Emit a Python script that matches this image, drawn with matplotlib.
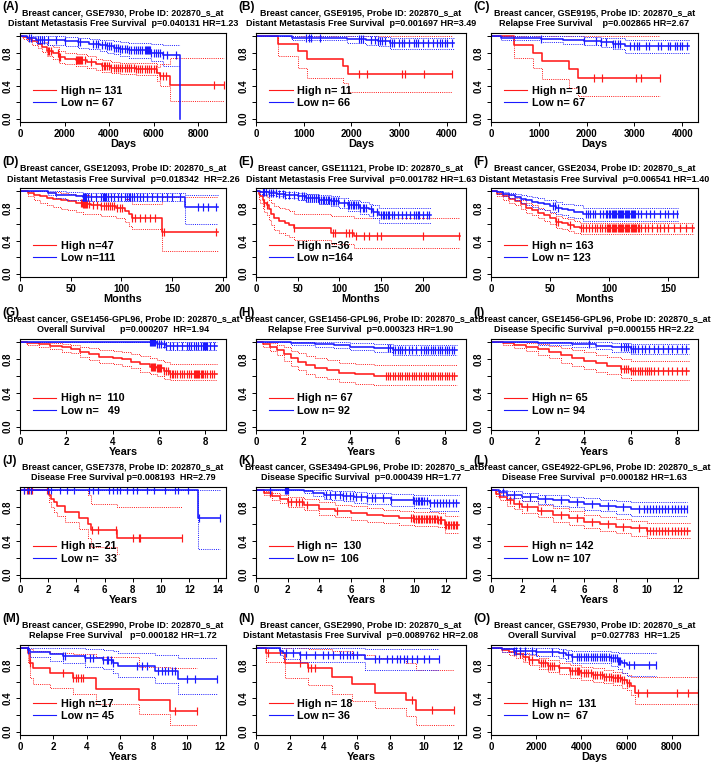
import numpy as np
import matplotlib
matplotlib.use("Agg")
import matplotlib.pyplot as plt
from matplotlib.lines import Line2D

plt.rcParams['font.family'] = ['Liberation Sans', 'DejaVu Sans']
plt.rcParams['font.weight'] = 'bold'

# ---------------- text data ----------------
letters = list("ABCDEFGHIJKLMNO")
title1 = [
    "Breast cancer, GSE7930, Probe ID: 202870_s_at",
    "Breast cancer, GSE9195, Probe ID: 202870_s_at",
    "Breast cancer, GSE9195, Probe ID: 202870_s_at",
    "Breast cancer, GSE12093, Probe ID: 202870_s_at",
    "Breast cancer, GSE11121, Probe ID: 202870_s_at",
    "Breast cancer, GSE2034, Probe ID: 202870_s_at",
    "Breast cancer, GSE1456-GPL96, Probe ID: 202870_s_at",
    "Breast cancer, GSE1456-GPL96, Probe ID: 202870_s_at",
    "Breast cancer, GSE1456-GPL96, Probe ID: 202870_s_at",
    "Breast cancer, GSE7378, Probe ID: 202870_s_at",
    "Breast cancer, GSE3494-GPL96, Probe ID: 202870_s_at",
    "Breast cancer, GSE4922-GPL96, Probe ID: 202870_s_at",
    "Breast cancer, GSE2990, Probe ID: 202870_s_at",
    "Breast cancer, GSE2990, Probe ID: 202870_s_at",
    "Breast cancer, GSE7930, Probe ID: 202870_s_at",
]
title2 = [
    "Distant Metastasis Free Survival  p=0.040131 HR=1.23",
    "Distant Metastasis Free Survival  p=0.001697 HR=3.49",
    "Relapse Free Survival    p=0.002865 HR=2.67",
    "Distant Metastasis Free Survival  p=0.018342  HR=2.26",
    "Distant Metastasis Free Survival  p=0.001782 HR=1.63",
    "Distant Metastasis Free Survival  p=0.006541 HR=1.40",
    "Overall Survival      p=0.000207  HR=1.94",
    "Relapse Free Survival  p=0.000323 HR=1.90",
    "Disease Specific Survival  p=0.000155 HR=2.22",
    "Disease Free Survival p=0.008193  HR=2.79",
    "Disease Specific Survival  p=0.000439 HR=1.77",
    "Disease Free Survival  p=0.000182 HR=1.63",
    "Relapse Free Survival   p=0.000182 HR=1.72",
    "Distant Metastasis Free Survival  p=0.0089762 HR=2.08",
    "Overall Survival      p=0.027783  HR=1.25",
]
legend_high = ["High n= 131", "High n= 11", "High n= 10", "High n=47", "High n=36",
               "High n= 163", "High n=  110", "High n= 67", "High n= 65", "High n= 21",
               "High n=  130", "High n= 142", "High n=17", "High n= 18", "High n=  131"]
legend_low = ["Low n= 67", "Low n= 66", "Low n= 67", "Low n=111", "Low n=164",
              "Low n= 123", "Low n=   49", "Low n= 92", "Low n= 94", "Low n=  33",
              "Low n=  106", "Low n= 107", "Low n= 45", "Low n= 36", "Low n=  67"]
x_units = ["Days", "Days", "Days", "Months", "Months", "Months", "Years", "Years", "Years",
           "Years", "Years", "Years", "Years", "Years", "Days"]
x_ticks = [[0, 2000, 4000, 6000, 8000], [0, 1000, 2000, 3000, 4000], [0, 1000, 2000, 3000, 4000],
           [0, 50, 100, 150, 200], [0, 50, 100, 150, 200], [0, 50, 100, 150],
           [0, 2, 4, 6, 8], [0, 2, 4, 6, 8], [0, 2, 4, 6, 8],
           [0, 2, 4, 6, 8, 10, 12, 14], [0, 2, 4, 6, 8, 10, 12], [0, 2, 4, 6, 8, 10, 12],
           [0, 2, 4, 6, 8, 10, 12], [0, 2, 4, 6, 8, 10, 12], [0, 2000, 4000, 6000, 8000]]
x_max = [9250, 4400, 4330, 203, 252, 175, 8.9, 8.9, 8.9, 14.6, 13.25, 13.3, 12.35, 12.5, 9150]

# ---------------- survival data ----------------
# A
A_hi_t = [0, 150, 350, 550, 800, 1000, 1200, 1500, 1750, 2000, 2500, 3000, 3400, 3700, 4100, 4500, 5200, 6150, 6300, 6750, 9150]
A_hi_s = [1.0, 0.99, 0.97, 0.94, 0.91, 0.87, 0.82, 0.80, 0.75, 0.73, 0.71, 0.69, 0.66, 0.64, 0.62, 0.61, 0.60, 0.55, 0.52, 0.41, 0.41]
A_hi_u = [1.0, 1.0, 0.99, 0.98, 0.96, 0.93, 0.89, 0.87, 0.82, 0.80, 0.78, 0.76, 0.73, 0.71, 0.69, 0.68, 0.67, 0.63, 0.66, 0.74, 0.74]
A_hi_l = [1.0, 0.97, 0.94, 0.90, 0.86, 0.81, 0.76, 0.73, 0.68, 0.66, 0.64, 0.62, 0.59, 0.57, 0.55, 0.54, 0.53, 0.46, 0.40, 0.21, 0.21]
A_hi_c = [1250, 1300, 1400, 1700, 1750, 1800, 2500, 2550, 2600, 2650, 2700, 2750, 2800, 2900, 3200, 3700, 3750, 3800,
          3900, 4000, 4100, 4200, 4300, 4400, 4500, 4600, 4700, 4800, 4900, 5000, 5100, 5200, 5300, 5400, 5500, 5600,
          5700, 5800, 5900, 6000, 6100, 6300, 6400, 6550, 8700, 9150]
A_lo_t = [0, 300, 700, 1200, 2000, 2600, 3100, 3600, 3900, 4200, 4500, 4900, 5900, 6400, 7180, 7181]
A_lo_s = [1.0, 0.98, 0.96, 0.95, 0.94, 0.93, 0.91, 0.90, 0.88, 0.86, 0.85, 0.83, 0.80, 0.77, 0.0, 0.0]
A_lo_u = [1.0, 1.0, 1.0, 1.0, 0.99, 0.98, 0.97, 0.96, 0.95, 0.94, 0.93, 0.92, 0.91, 0.90, np.nan, np.nan]
A_lo_l = [1.0, 0.95, 0.92, 0.90, 0.88, 0.86, 0.84, 0.82, 0.80, 0.78, 0.76, 0.74, 0.70, 0.64, np.nan, np.nan]
A_lo_c = [400, 500, 800, 900, 1000, 1100, 1250, 1600, 2000, 2600, 2700, 3300, 3400, 3500, 3700, 3800, 3900, 4000,
          4100, 4200, 4300, 4400, 4500, 4600, 4700, 4800, 4900, 5000, 5100, 5200, 5300, 5400, 5500, 5600, 5650,
          5700, 5750, 5800, 5850, 5900, 6000, 6100, 6200, 6300, 6400, 6600, 7000]
# B
B_hi_t = [0, 460, 880, 1070, 1830, 1930, 4100]
B_hi_s = [1.0, 0.909, 0.818, 0.727, 0.636, 0.545, 0.545]
B_hi_u = [1.0, 1.0, 1.0, 1.0, 1.0, 1.0, 1.0]
B_hi_l = [1.0, 0.76, 0.62, 0.49, 0.43, 0.32, 0.32]
B_hi_c = [2150, 2320, 3050, 3130, 3530, 4100]
B_lo_t = [0, 760, 1900, 2300, 2550, 2800, 4150]
B_lo_s = [1.0, 0.985, 0.97, 0.955, 0.94, 0.92, 0.92]
B_lo_u = [1.0, 1.0, 1.0, 1.0, 0.99, 0.98, 0.98]
B_lo_l = [1.0, 0.95, 0.92, 0.90, 0.88, 0.85, 0.85]
B_lo_c = [1050, 1120, 1150, 1350, 2150, 2200, 2250, 2400, 2500, 2550, 2600, 2650, 2700, 2800, 2850, 2900, 3000,
          3050, 3100, 3200, 3300, 3350, 3400, 3500, 3600, 3700, 3800, 3850, 3900, 3950, 4000, 4100]
# C
C_hi_t = [0, 480, 880, 1070, 1630, 1830, 3530]
C_hi_s = [1.0, 0.9, 0.8, 0.7, 0.6, 0.5, 0.5]
C_hi_u = [1.0, 1.0, 1.0, 1.0, 1.0, 1.0, 1.0]
C_hi_l = [1.0, 0.74, 0.62, 0.48, 0.37, 0.27, 0.27]
C_hi_c = [2150, 2320, 3030, 3130, 3530]
C_lo_t = [0, 200, 1050, 1500, 1950, 2300, 2550, 2800, 4150]
C_lo_s = [1.0, 0.985, 0.97, 0.955, 0.94, 0.925, 0.905, 0.88, 0.88]
C_lo_u = [1.0, 1.0, 1.0, 1.0, 0.99, 0.985, 0.975, 0.96, 0.96]
C_lo_l = [1.0, 0.95, 0.93, 0.91, 0.89, 0.87, 0.84, 0.80, 0.80]
C_lo_c = [1050, 1950, 2200, 2300, 2400, 2550, 2600, 2650, 2700, 2900, 3000, 3050, 3100, 3250, 3300, 3500, 3550,
          3700, 3750, 3850, 3900, 3950, 4000, 4100]
# D
D_hi_t = [0, 8, 14, 20, 27, 33, 40, 47, 55, 62, 70, 80, 95, 103, 107, 110, 140, 195]
D_hi_s = [1.0, 0.98, 0.96, 0.94, 0.92, 0.91, 0.89, 0.88, 0.86, 0.84, 0.83, 0.82, 0.80, 0.76, 0.72, 0.68, 0.51, 0.51]
D_hi_u = [1.0, 1.0, 1.0, 1.0, 0.99, 0.99, 0.98, 0.97, 0.96, 0.95, 0.94, 0.94, 0.93, 0.91, 0.88, 0.85, 0.93, 0.93]
D_hi_l = [1.0, 0.94, 0.90, 0.86, 0.83, 0.81, 0.78, 0.77, 0.75, 0.73, 0.72, 0.70, 0.68, 0.63, 0.58, 0.54, 0.28, 0.28]
D_hi_c = [60, 61, 62, 63, 64, 65, 66, 68, 72, 76, 80, 83, 85, 87, 89, 91, 93, 96, 99, 101, 110, 113, 118, 123, 128,
          133, 140, 142, 193]
D_lo_t = [0, 28, 35, 45, 55, 62, 163, 195]
D_lo_s = [1.0, 0.98, 0.96, 0.95, 0.94, 0.93, 0.81, 0.81]
D_lo_u = [1.0, 1.0, 1.0, 0.99, 0.99, 0.98, 0.95, 0.95]
D_lo_l = [1.0, 0.95, 0.92, 0.90, 0.89, 0.88, 0.60, 0.60]
D_lo_c = [62, 63, 64, 65, 67, 70, 75, 80, 82, 83, 84, 85, 87, 90, 93, 97, 100, 103, 105, 107, 108, 110, 112, 115,
          118, 121, 125, 130, 135, 140, 145, 150, 158, 175, 180, 185, 193]
# E
E_hi_t = [0, 3, 5, 8, 10, 13, 15, 18, 22, 28, 35, 40, 45, 90, 118, 245]
E_hi_s = [1.0, 0.97, 0.94, 0.89, 0.86, 0.83, 0.78, 0.72, 0.67, 0.64, 0.61, 0.59, 0.56, 0.50, 0.46, 0.46]
E_hi_u = [1.0, 1.0, 0.99, 0.97, 0.95, 0.93, 0.90, 0.86, 0.82, 0.80, 0.78, 0.76, 0.73, 0.70, 0.68, 0.68]
E_hi_l = [1.0, 0.91, 0.86, 0.79, 0.75, 0.71, 0.65, 0.59, 0.53, 0.50, 0.47, 0.44, 0.41, 0.36, 0.31, 0.31]
E_hi_c = [10, 13, 45, 92, 95, 108, 112, 115, 120, 130, 135, 145, 150, 200, 243]
E_lo_t = [0, 5, 15, 25, 35, 50, 60, 75, 90, 100, 110, 125, 135, 140, 147, 210]
E_lo_s = [1.0, 0.99, 0.98, 0.97, 0.96, 0.94, 0.92, 0.90, 0.88, 0.86, 0.83, 0.80, 0.78, 0.75, 0.71, 0.71]
E_lo_u = [1.0, 1.0, 1.0, 1.0, 0.99, 0.98, 0.97, 0.95, 0.94, 0.92, 0.90, 0.87, 0.85, 0.83, 0.80, 0.80]
E_lo_l = [1.0, 0.97, 0.96, 0.94, 0.92, 0.90, 0.87, 0.85, 0.82, 0.80, 0.76, 0.73, 0.70, 0.67, 0.62, 0.62]
E_lo_c = [8, 10, 12, 15, 18, 20, 24, 28, 32, 35, 40, 45, 50, 55, 58, 60, 62, 65, 67, 70, 72, 74, 76, 78, 80, 82, 84,
          86, 88, 90, 92, 94, 96, 98, 105, 110, 112, 114, 116, 118, 120, 122, 125, 128, 130, 132, 138, 140, 145,
          150, 152, 154, 156, 158, 160, 163, 166, 170, 175, 180, 185, 190, 192, 194, 196, 200, 205, 208]
# F
F_hi_t = [0, 5, 10, 15, 20, 25, 30, 35, 40, 45, 50, 55, 60, 65, 70, 75, 172]
F_hi_s = [1.0, 0.97, 0.94, 0.91, 0.88, 0.84, 0.80, 0.77, 0.74, 0.71, 0.67, 0.63, 0.61, 0.59, 0.57, 0.55, 0.55]
F_hi_u = [1.0, 0.99, 0.97, 0.95, 0.92, 0.89, 0.86, 0.83, 0.80, 0.77, 0.74, 0.70, 0.68, 0.66, 0.64, 0.62, 0.62]
F_hi_l = [1.0, 0.94, 0.90, 0.86, 0.83, 0.78, 0.74, 0.71, 0.67, 0.64, 0.60, 0.56, 0.54, 0.52, 0.50, 0.48, 0.48]
F_hi_c = [55, 57, 67, 76, 78, 80, 83, 85, 88, 90, 92, 94, 96, 98, 99, 100, 101, 102, 103, 104, 105, 106, 107, 108,
          109, 110, 111, 112, 113, 114, 115, 116, 117, 118, 119, 120, 121, 122, 123, 124, 125, 127, 130, 133, 136,
          140, 143, 146, 150, 155, 160, 165, 170]
F_lo_t = [0, 5, 10, 15, 20, 25, 30, 35, 40, 45, 50, 55, 60, 65, 70, 78, 158]
F_lo_s = [1.0, 0.99, 0.97, 0.95, 0.93, 0.91, 0.89, 0.87, 0.86, 0.84, 0.82, 0.80, 0.78, 0.77, 0.75, 0.72, 0.72]
F_lo_u = [1.0, 1.0, 0.99, 0.98, 0.97, 0.96, 0.94, 0.93, 0.92, 0.90, 0.89, 0.87, 0.85, 0.84, 0.83, 0.80, 0.80]
F_lo_l = [1.0, 0.97, 0.94, 0.92, 0.89, 0.86, 0.83, 0.81, 0.79, 0.77, 0.75, 0.73, 0.71, 0.69, 0.67, 0.64, 0.64]
F_lo_c = [52, 54, 57, 80, 82, 84, 86, 88, 92, 95, 97, 98, 100, 101, 102, 103, 104, 105, 106, 107, 108, 109, 110,
          111, 112, 113, 114, 115, 116, 117, 118, 119, 120, 121, 122, 124, 127, 131, 134, 138, 143, 147, 150, 154, 157]
# G
G_hi_t = [0, 0.3, 0.8, 1.3, 1.8, 2.2, 2.6, 3.0, 3.4, 4.0, 4.4, 4.8, 5.2, 5.6, 5.9, 6.2, 6.5, 8.5]
G_hi_s = [1.0, 0.99, 0.98, 0.96, 0.94, 0.92, 0.89, 0.86, 0.83, 0.82, 0.80, 0.77, 0.74, 0.71, 0.69, 0.66, 0.63, 0.63]
G_hi_u = [1.0, 1.0, 1.0, 0.99, 0.98, 0.97, 0.95, 0.93, 0.91, 0.90, 0.88, 0.86, 0.84, 0.81, 0.79, 0.77, 0.74, 0.74]
G_hi_l = [1.0, 0.97, 0.95, 0.92, 0.89, 0.87, 0.83, 0.79, 0.76, 0.74, 0.72, 0.69, 0.65, 0.62, 0.60, 0.57, 0.55, 0.55]
G_hi_c = [5.65, 5.7, 5.75, 5.8, 5.85, 5.9, 5.95, 6.0, 6.05, 6.1, 6.2, 6.3, 6.4, 6.5, 6.55, 6.6, 6.7, 6.8, 6.9, 7.0,
          7.1, 7.2, 7.3, 7.4, 7.5, 7.55, 7.6, 7.65, 7.7, 7.75, 7.8, 7.85, 7.9, 8.0, 8.1, 8.2, 8.3, 8.4]
G_lo_t = [0, 5.9, 6.3, 8.5]
G_lo_s = [1.0, 0.98, 0.96, 0.96]
G_lo_u = [1.0, 1.0, 1.0, 1.0]
G_lo_l = [1.0, 0.94, 0.91, 0.91]
G_lo_c = [5.6, 5.65, 5.7, 5.75, 5.8, 5.85, 5.9, 6.0, 6.1, 6.2, 6.3, 6.5, 6.6, 6.8, 7.0, 7.2, 7.3, 7.4, 7.5, 7.6,
          7.7, 7.8, 7.9, 7.95, 8.0, 8.05, 8.1, 8.2, 8.4]
# H
H_hi_t = [0, 0.3, 0.6, 0.9, 1.2, 1.5, 1.8, 2.1, 2.5, 3.0, 3.5, 4.2, 5.0, 8.5]
H_hi_s = [1.0, 0.98, 0.95, 0.91, 0.86, 0.81, 0.77, 0.73, 0.70, 0.67, 0.64, 0.62, 0.60, 0.60]
H_hi_u = [1.0, 1.0, 0.99, 0.97, 0.94, 0.90, 0.87, 0.84, 0.81, 0.79, 0.76, 0.74, 0.73, 0.73]
H_hi_l = [1.0, 0.95, 0.90, 0.85, 0.78, 0.72, 0.67, 0.63, 0.59, 0.56, 0.53, 0.51, 0.49, 0.49]
H_hi_c = [5.5, 5.6, 5.7, 5.8, 5.9, 6.0, 6.1, 6.2, 6.3, 6.4, 6.5, 6.6, 6.7, 6.8, 6.9, 7.0, 7.1, 7.2, 7.3, 7.4, 7.5,
          7.6, 7.7, 7.8, 7.9, 8.0, 8.1, 8.2, 8.3, 8.4]
H_lo_t = [0, 1.5, 2.5, 3.3, 4.0, 5.0, 5.8, 8.5]
H_lo_s = [1.0, 0.99, 0.98, 0.97, 0.95, 0.93, 0.91, 0.91]
H_lo_u = [1.0, 1.0, 1.0, 1.0, 0.99, 0.98, 0.97, 0.97]
H_lo_l = [1.0, 0.97, 0.95, 0.93, 0.91, 0.88, 0.85, 0.85]
H_lo_c = [5.6, 5.7, 5.8, 5.9, 6.0, 6.1, 6.2, 6.3, 6.5, 6.6, 6.8, 7.0, 7.1, 7.2, 7.3, 7.4, 7.5, 7.6, 7.7, 7.8, 7.9,
          8.0, 8.1, 8.2, 8.3, 8.4]
# I
I_hi_t = [0, 0.5, 1.0, 1.5, 2.0, 2.5, 3.0, 3.5, 4.0, 4.5, 5.0, 5.6, 6.0, 8.5]
I_hi_s = [1.0, 0.99, 0.97, 0.95, 0.92, 0.89, 0.85, 0.82, 0.78, 0.75, 0.72, 0.68, 0.66, 0.66]
I_hi_u = [1.0, 1.0, 1.0, 0.99, 0.98, 0.96, 0.93, 0.91, 0.88, 0.85, 0.83, 0.80, 0.78, 0.78]
I_hi_l = [1.0, 0.97, 0.93, 0.90, 0.85, 0.81, 0.76, 0.72, 0.68, 0.65, 0.62, 0.58, 0.55, 0.55]
I_hi_c = [5.6, 5.7, 5.8, 5.9, 6.0, 6.1, 6.2, 6.3, 6.4, 6.5, 6.6, 6.7, 6.8, 6.9, 7.0, 7.2, 7.4, 7.6, 7.8, 8.0, 8.2, 8.4]
I_lo_t = [0, 2.0, 3.5, 4.5, 5.2, 6.0, 8.5]
I_lo_s = [1.0, 0.99, 0.98, 0.96, 0.94, 0.92, 0.92]
I_lo_u = [1.0, 1.0, 1.0, 1.0, 0.99, 0.98, 0.98]
I_lo_l = [1.0, 0.97, 0.95, 0.92, 0.89, 0.86, 0.86]
I_lo_c = [4.2, 5.6, 5.7, 5.8, 5.9, 6.0, 6.1, 6.2, 6.3, 6.5, 6.6, 6.8, 7.0, 7.2, 7.4, 7.6, 7.8, 8.0, 8.2, 8.4]
# J
J_hi_t = [0, 2.05, 2.2, 2.4, 2.6, 3.2, 4.2, 4.8, 5.0, 6.9, 7.0, 11.5]
J_hi_s = [1.0, 0.95, 0.90, 0.86, 0.81, 0.74, 0.67, 0.60, 0.53, 0.43, 0.43, 0.43]
J_hi_u = [1.0, 1.0, 1.0, 1.0, 1.0, 1.0, 1.0, 0.94, 0.84, 0.80, 0.80, 0.80]
J_hi_l = [1.0, 0.86, 0.80, 0.74, 0.69, 0.63, 0.54, 0.44, 0.33, 0.24, np.nan, np.nan]
J_hi_c = [0.3, 0.5, 0.65, 0.75, 0.85, 1.9, 5.1, 5.5, 6.8, 8.0, 8.4, 8.5, 11.5]
J_lo_t = [0, 12.6, 14.2]
J_lo_s = [1.0, 0.67, 0.67]
J_lo_u = [1.0, 1.0, 1.0]
J_lo_l = [1.0, 0.30, 0.30]
J_lo_c = [0.3, 0.55, 0.8, 2.0, 2.2, 2.8, 3.3, 3.8, 4.9, 5.2, 5.5, 6.3, 6.6, 6.9, 7.1, 7.6, 8.0, 8.3, 9.0, 9.5,
          10.3, 11.0, 11.2, 11.9, 12.7, 14.2]
# K
K_hi_t = [0, 0.5, 1.0, 1.5, 2.0, 3.0, 4.0, 5.0, 6.0, 7.0, 8.0, 9.0, 10.0, 11.5, 11.9, 12.8]
K_hi_s = [1.0, 0.97, 0.93, 0.90, 0.86, 0.83, 0.78, 0.75, 0.73, 0.71, 0.69, 0.67, 0.66, 0.65, 0.59, 0.59]
K_hi_u = [1.0, 0.99, 0.97, 0.95, 0.92, 0.90, 0.86, 0.83, 0.81, 0.79, 0.77, 0.75, 0.74, 0.73, 0.69, 0.69]
K_hi_l = [1.0, 0.94, 0.89, 0.85, 0.80, 0.77, 0.71, 0.68, 0.65, 0.63, 0.61, 0.59, 0.58, 0.56, 0.49, 0.49]
K_hi_c = [0.9, 2.0, 2.2, 2.5, 2.7, 2.9, 3.2, 5.1, 9.8, 9.9, 10.0, 10.1, 10.2, 10.3, 10.4, 10.5, 10.6, 10.7, 10.8,
          10.9, 11.0, 11.1, 11.2, 11.3, 11.4, 11.5, 11.6, 11.7, 11.9, 12.0, 12.1, 12.2, 12.3, 12.4, 12.5, 12.6, 12.7]
K_lo_t = [0, 3.0, 3.6, 4.3, 4.8, 5.5, 6.2, 7.0, 8.5, 10.0, 11.0, 12.8]
K_lo_s = [1.0, 0.99, 0.97, 0.95, 0.94, 0.93, 0.92, 0.91, 0.89, 0.87, 0.85, 0.85]
K_lo_u = [1.0, 1.0, 1.0, 1.0, 0.99, 0.99, 0.98, 0.97, 0.96, 0.95, 0.94, 0.94]
K_lo_l = [1.0, 0.97, 0.93, 0.90, 0.89, 0.87, 0.85, 0.84, 0.82, 0.79, 0.76, 0.76]
K_lo_c = [0.9, 1.85, 1.9, 1.95, 2.0, 4.4, 4.7, 5.0, 5.3, 5.5, 5.7, 5.9, 6.1, 6.3, 6.6, 7.0, 7.3, 7.5, 8.0, 8.5, 9.9,
          10.0, 10.1, 10.2, 10.3, 10.4, 10.5, 10.6, 10.8, 11.0, 11.2, 11.4, 11.6, 11.8, 12.0, 12.2, 12.4, 12.6]
# L
L_hi_t = [0, 0.3, 0.6, 1.0, 1.5, 2.0, 3.0, 4.0, 5.0, 6.0, 7.0, 8.0, 9.0, 10.0, 12.8]
L_hi_s = [1.0, 0.96, 0.92, 0.88, 0.84, 0.80, 0.75, 0.71, 0.67, 0.63, 0.60, 0.57, 0.55, 0.52, 0.52]
L_hi_u = [1.0, 0.99, 0.97, 0.94, 0.91, 0.87, 0.83, 0.79, 0.75, 0.71, 0.68, 0.66, 0.64, 0.61, 0.61]
L_hi_l = [1.0, 0.93, 0.88, 0.82, 0.78, 0.73, 0.68, 0.63, 0.59, 0.55, 0.52, 0.49, 0.46, 0.43, 0.43]
L_hi_c = [0.5, 1.2, 1.8, 2.3, 3.2, 4.5, 5.5, 6.5, 7.5, 8.5, 9.5, 10.0, 10.2, 10.4, 10.6, 10.8, 11.0, 11.2, 11.4,
          11.6, 11.8, 12.0, 12.2, 12.4, 12.6]
L_lo_t = [0, 0.5, 1.0, 2.0, 3.0, 4.0, 5.0, 6.0, 7.0, 8.0, 9.0, 12.6]
L_lo_s = [1.0, 0.98, 0.95, 0.92, 0.90, 0.88, 0.86, 0.84, 0.82, 0.80, 0.78, 0.78]
L_lo_u = [1.0, 1.0, 0.99, 0.97, 0.95, 0.94, 0.92, 0.91, 0.89, 0.87, 0.86, 0.86]
L_lo_l = [1.0, 0.95, 0.91, 0.87, 0.84, 0.82, 0.80, 0.77, 0.75, 0.72, 0.70, 0.70]
L_lo_c = [0.8, 1.5, 2.5, 3.5, 4.5, 5.5, 6.5, 7.5, 8.5, 9.5, 9.8, 10.0, 10.2, 10.4, 10.6, 10.8, 11.0, 11.2, 11.4,
          11.6, 11.8, 12.0, 12.2, 12.4, 12.6]
# M
M_hi_t = [0, 0.45, 0.62, 0.8, 1.8, 3.15, 4.55, 7.15, 9.0, 10.6]
M_hi_s = [1.0, 0.94, 0.82, 0.76, 0.70, 0.64, 0.51, 0.38, 0.25, 0.25]
M_hi_u = [1.0, 1.0, 0.99, 0.97, 0.95, 0.93, 0.90, 0.78, 0.76, 0.76]
M_hi_l = [1.0, 0.83, 0.64, 0.57, 0.52, 0.45, 0.33, 0.21, 0.08, 0.08]
M_hi_c = [0.62, 2.6, 3.2, 3.35, 3.5, 3.65, 3.8, 9.3, 10.6]
M_lo_t = [0, 0.45, 0.6, 1.8, 2.6, 3.9, 5.0, 5.6, 5.85, 8.1, 9.5, 11.8]
M_lo_s = [1.0, 0.98, 0.96, 0.93, 0.91, 0.89, 0.86, 0.83, 0.79, 0.73, 0.63, 0.63]
M_lo_u = [1.0, 1.0, 1.0, 1.0, 1.0, 0.99, 0.98, 0.97, 0.95, 0.92, 0.88, 0.88]
M_lo_l = [1.0, 0.94, 0.90, 0.85, 0.82, 0.78, 0.75, 0.71, 0.66, 0.59, 0.45, 0.45]
M_lo_c = [0.5, 2.6, 2.7, 3.9, 4.2, 4.4, 5.0, 5.2, 5.3, 5.45, 5.6, 7.0, 7.3, 7.6, 8.3, 8.5, 8.7, 8.9, 9.1, 9.3,
          10.0, 10.5, 11.8]
# N
N_hi_t = [0, 0.6, 1.75, 3.1, 4.55, 5.7, 7.1, 8.9, 9.5, 11.8]
N_hi_s = [1.0, 0.94, 0.83, 0.77, 0.66, 0.57, 0.47, 0.38, 0.26, 0.26]
N_hi_u = [1.0, 1.0, 1.0, 0.99, 0.97, 0.92, 0.88, 0.83, 0.74, 0.74]
N_hi_l = [1.0, 0.84, 0.64, 0.56, 0.45, 0.37, 0.28, 0.19, 0.08, 0.08]
N_hi_c = [0.7, 2.6, 3.1, 3.3, 3.5, 9.3, 10.5, 11.8]
N_lo_t = [0, 1.4, 1.6, 2.6, 6.5, 10.9]
N_lo_s = [1.0, 0.97, 0.94, 0.92, 0.87, 0.87]
N_lo_u = [1.0, 1.0, 1.0, 1.0, 0.99, 0.99]
N_lo_l = [1.0, 0.92, 0.87, 0.84, 0.74, 0.74]
N_lo_c = [1.4, 1.8, 2.2, 2.6, 3.0, 3.5, 4.0, 4.3, 4.6, 5.0, 5.2, 5.4, 5.6, 5.8, 6.0, 7.1, 7.3, 7.8, 8.1, 8.4, 8.6,
          8.8, 9.0, 9.3, 9.6, 10.0, 10.3, 10.9]
# O
O_hi_t = [0, 500, 800, 1100, 1400, 1700, 2100, 2500, 3000, 3500, 4000, 4500, 5000, 5400, 5800, 6000, 6200, 6350, 9150]
O_hi_s = [1.0, 0.98, 0.96, 0.93, 0.90, 0.86, 0.82, 0.79, 0.76, 0.73, 0.70, 0.68, 0.66, 0.64, 0.62, 0.59, 0.55, 0.47, 0.47]
O_hi_u = [1.0, 1.0, 0.99, 0.97, 0.95, 0.92, 0.89, 0.86, 0.83, 0.80, 0.78, 0.76, 0.74, 0.72, 0.71, 0.68, 0.66, 0.66, 0.66]
O_hi_l = [1.0, 0.96, 0.92, 0.88, 0.84, 0.80, 0.75, 0.72, 0.69, 0.65, 0.62, 0.60, 0.58, 0.56, 0.53, 0.50, 0.44, 0.33, 0.33]
O_hi_c = [1000, 1300, 1500, 1700, 1800, 2200, 2300, 2400, 2500, 2600, 2700, 2800, 3000, 3500, 3600, 3700, 3800,
          3850, 3900, 4000, 4100, 4200, 4300, 4400, 4500, 4600, 4700, 4800, 4900, 5000, 5100, 5200, 5300, 5400,
          5500, 5550, 5600, 5700, 5800, 5900, 6000, 6100, 6500, 6900, 8200, 8700, 9150]
O_lo_t = [0, 500, 1000, 2000, 3000, 3300, 3600, 5300, 5600, 5800, 6000, 7300]
O_lo_s = [1.0, 0.99, 0.97, 0.96, 0.95, 0.92, 0.90, 0.88, 0.85, 0.82, 0.80, 0.80]
O_lo_u = [1.0, 1.0, 1.0, 1.0, 0.99, 0.98, 0.97, 0.96, 0.95, 0.94, 0.94, 0.94]
O_lo_l = [1.0, 0.96, 0.93, 0.91, 0.89, 0.85, 0.82, 0.79, 0.75, 0.71, 0.67, 0.67]
O_lo_c = [1000, 1100, 1300, 1500, 1800, 2000, 2700, 3200, 3400, 3600, 3800, 3900, 4000, 4100, 4200, 4300, 4400,
          4500, 4600, 4700, 4800, 4900, 5000, 5100, 5200, 5300, 5400, 5500, 5550, 5600, 5650, 5700, 5900, 6100,
          6300, 7000, 7300]

g = globals()
RED = "#ff1a1a"
BLUE = "#1a1aff"

# ---------------- layout (pixels) ----------------
W, H = 720, 765
col_lr = [(20, 226), (256, 466), (491, 698)]
row_tb = [(33, 122), (188, 277), (339, 430), (487, 578), (645, 735)]

fig = plt.figure(figsize=(W / 100, H / 100), dpi=100)
fig.patch.set_facecolor("white")


def km(ax, t, s, u, l, c, color):
    t = np.asarray(t, float)
    s = np.asarray(s, float)
    ax.step(t, u, where="post", color=color, lw=0.7, ls=(0, (1, 1.2)))
    ax.step(t, l, where="post", color=color, lw=0.7, ls=(0, (1, 1.2)))
    ax.step(t, s, where="post", color=color, lw=1.15)
    c = np.asarray(c, float)
    idx = np.clip(np.searchsorted(t, c, side="right") - 1, 0, len(s) - 1)
    ax.plot(c, s[idx], ls="none", marker="|", ms=6, mew=0.85, color=color)


for i, L in enumerate(letters):
    r, cidx = divmod(i, 3)
    x0, x1 = col_lr[cidx]
    y0, y1 = row_tb[r]
    ax = fig.add_axes([x0 / W, 1 - y1 / H, (x1 - x0) / W, (y1 - y0) / H])
    km(ax, g[L + "_hi_t"], g[L + "_hi_s"], g[L + "_hi_u"], g[L + "_hi_l"], g[L + "_hi_c"], RED)
    km(ax, g[L + "_lo_t"], g[L + "_lo_s"], g[L + "_lo_u"], g[L + "_lo_l"], g[L + "_lo_c"], BLUE)
    ax.set_xlim(0, x_max[i])
    ax.set_ylim(-0.04, 1.04)
    ax.set_yticks([0, 0.2, 0.4, 0.6, 0.8, 1.0])
    ax.set_yticklabels(["0.0", "", "0.4", "", "0.8", ""], rotation=90, va="center")
    ax.set_xticks(x_ticks[i])
    ax.set_xticklabels([str(v) for v in x_ticks[i]])
    ax.tick_params(axis="both", direction="out", length=3, width=0.7, labelsize=7, pad=2)
    for sp in ax.spines.values():
        sp.set_linewidth(0.8)
    ax.set_xlabel(x_units[i], fontsize=7.8, fontweight="bold", labelpad=0)
    handles = [Line2D([], [], color=RED, lw=0.8), Line2D([], [], color=BLUE, lw=0.8)]
    ax.legend(handles, [legend_high[i], legend_low[i]], loc="lower left",
              bbox_to_anchor=(0.04, 0.11), frameon=False,
              handlelength=2.2, handletextpad=0.4, labelspacing=0.2, borderaxespad=0,
              prop={"weight": "bold", "size": 7.8})
    cx = (x0 + x1) / 2 / W
    fig.text(cx, 1 - (y0 - 20) / H, title1[i], ha="center", va="center", fontsize=6.4, fontweight="bold")
    fig.text(cx, 1 - (y0 - 9) / H, title2[i], ha="center", va="center", fontsize=6.5, fontweight="bold")
    fig.text((x0 - 18) / W, 1 - (y0 - 26) / H, "(" + L + ")", ha="left", va="center",
             fontsize=8.5, fontweight="bold")

fig.savefig("out.png", dpi=100)
